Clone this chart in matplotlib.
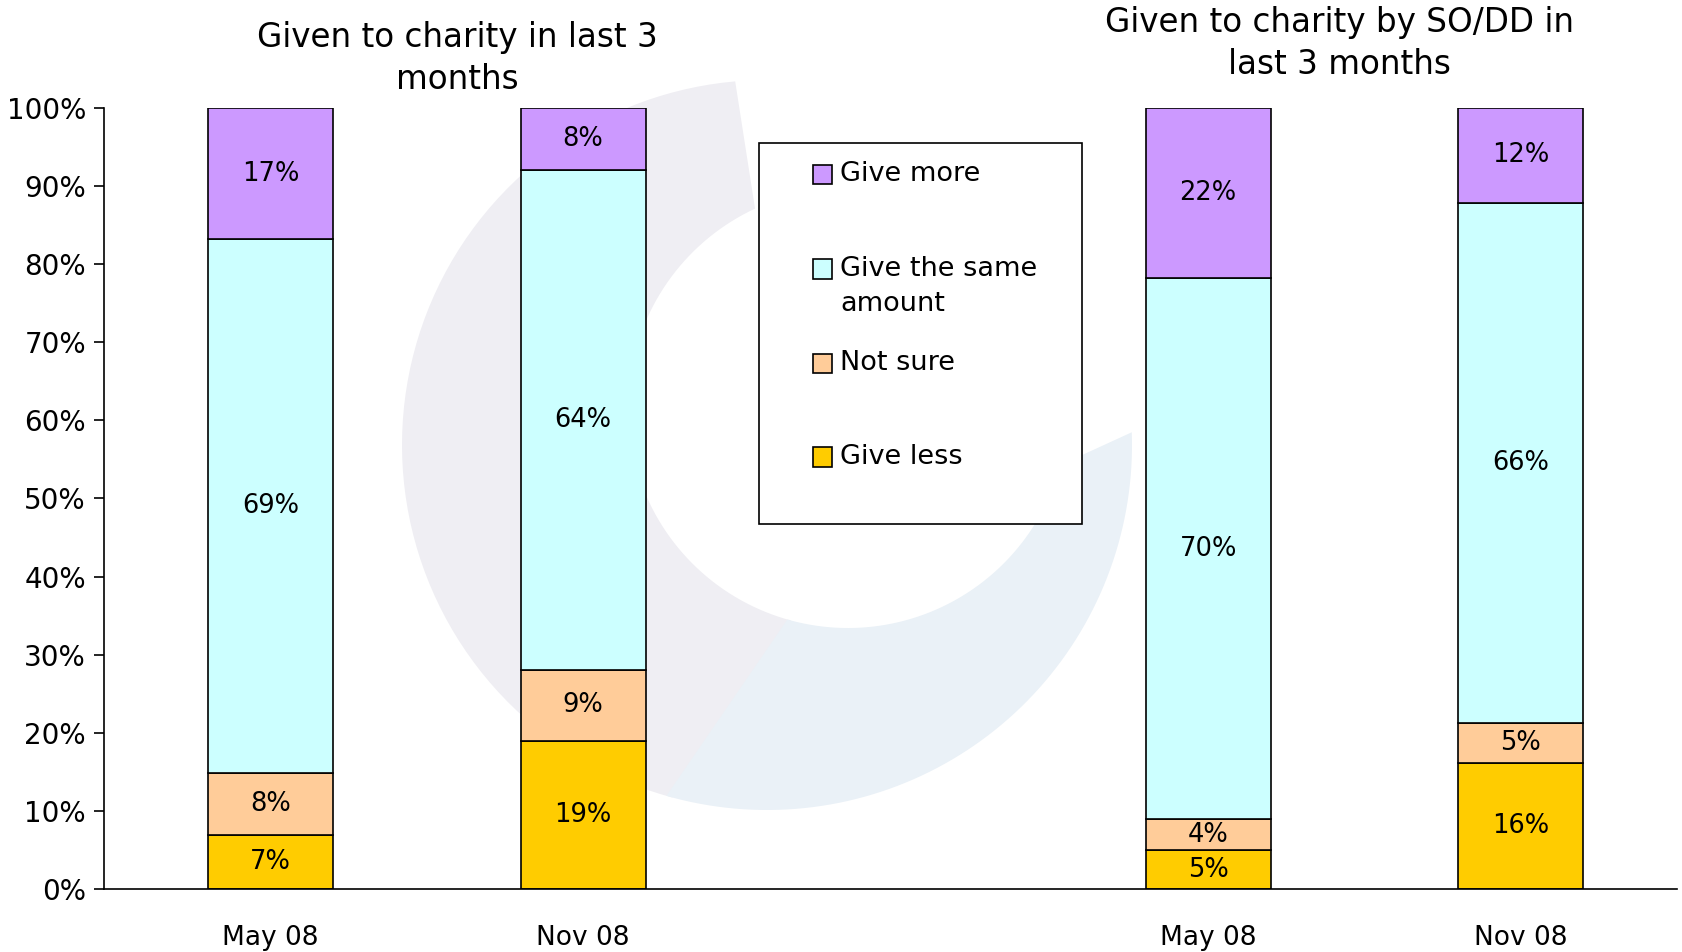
import numpy as np
import matplotlib.pyplot as plt
from matplotlib.patches import Rectangle, Polygon
from matplotlib.transforms import IdentityTransform

# survey answers, percent of respondents
periods = ['May 08', 'Nov 08', 'May 08', 'Nov 08']
xpos = [0, 1, 3, 4]
series = ['Give less', 'Not sure', 'Give the same amount', 'Give more']
give_less = [7, 19, 5, 16]
not_sure = [8, 9, 4, 5]
give_same = [69, 64, 70, 66]
give_more = [17, 8, 22, 12]
colors = ['#ffcc00', '#ffcc99', '#ccffff', '#cc99ff']
titles = ['Given to charity in last 3\nmonths', 'Given to charity by SO/DD in\nlast 3 months']

plt.rcParams['font.family'] = 'DejaVu Sans'

fig = plt.figure(figsize=(16.83, 9.52), dpi=100)
ax = fig.add_axes([0.0618, 0.0662, 0.9346, 0.8204])
ax.set_facecolor('none')


def crescent(a0, a1, b0, b1):
    # ring piece between two off-centre circles, in pixels
    t_out = np.radians(np.linspace(a0, a1, 80))
    t_in = np.radians(np.linspace(b1, b0, 80))
    outer = np.c_[767 + 365 * np.cos(t_out), 507 + 365 * np.sin(t_out)]
    inner = np.c_[848 + 220 * np.cos(t_in), 544 + 220 * np.sin(t_in)]
    return np.vstack([outer, inner])


# faint logo swoosh behind the chart
for pts, col in [(crescent(95, 255, 115, 255), '#efeef3'),
                 (crescent(254, 362, 254, 345), '#eaf1f7')]:
    fig.patches.append(Polygon(pts, closed=True, transform=IdentityTransform(),
                               facecolor=col, edgecolor='none', zorder=-1))

data = np.array([give_less, not_sure, give_same, give_more], dtype=float)
shares = data / data.sum(axis=0) * 100
bottom = np.zeros(len(xpos))
for i in range(len(series)):
    ax.bar(xpos, shares[i], 0.4, bottom=bottom, color=colors[i],
           edgecolor='black', linewidth=1.2, zorder=2)
    for x, b, h, v in zip(xpos, bottom, shares[i], data[i]):
        ax.text(x, b + h / 2, '%d%%' % v, ha='center', va='center',
                fontsize=18.5, zorder=3)
    bottom += shares[i]

ax.set_xlim(-0.533, 4.5)
ax.set_ylim(0, 100)
ax.set_yticks(np.arange(0, 101, 10))
ax.set_yticklabels(['%d%%' % t for t in range(0, 101, 10)], fontsize=20)
ax.set_xticks(xpos)
ax.set_xticklabels(periods, fontsize=19)
ax.tick_params(axis='x', length=0, pad=26)
ax.tick_params(axis='y', length=7, width=1.2, direction='out', pad=6)
for s in ['top', 'right']:
    ax.spines[s].set_visible(False)
for s in ['left', 'bottom']:
    ax.spines[s].set_linewidth(1.2)

ax.text(0.598, 106.3, titles[0], ha='center', va='center', fontsize=23.5,
        linespacing=1.35, clip_on=False)
ax.text(3.42, 108.3, titles[1], ha='center', va='center', fontsize=23.5,
        linespacing=1.35, clip_on=False)

# legend box drawn by hand
ax.add_patch(Rectangle((0.4164, 0.467), 0.2053, 0.488, transform=ax.transAxes,
                       facecolor='white', edgecolor='black', linewidth=1.2, zorder=4))
leg_y = [0.915, 0.794, 0.673, 0.553]
for lab, col, y in zip(series[::-1], colors[::-1], leg_y):
    ax.add_patch(Rectangle((0.4505, y - 0.0124), 0.0123, 0.0248, transform=ax.transAxes,
                           facecolor=col, edgecolor='black', linewidth=1.2, zorder=5))
    words = lab.split(' ')
    lines = [lab] if len(words) < 4 else [' '.join(words[:3]), ' '.join(words[3:])]
    for k, line in enumerate(lines):
        ax.text(0.468, y - k * 0.0454, line, transform=ax.transAxes, ha='left',
                va='center', fontsize=19.5, zorder=5)

fig.savefig('out.png', dpi=100)
